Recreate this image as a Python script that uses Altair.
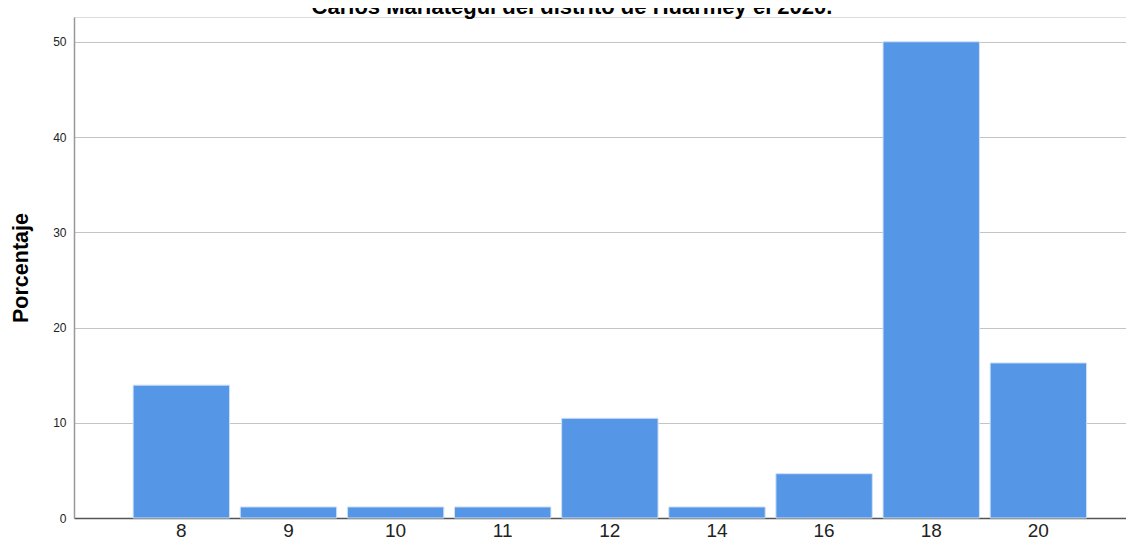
import altair as alt
import pandas as pd

categories = ["8", "9", "10", "11", "12", "14", "16", "18", "20"]
percentages = [13.95, 1.16, 1.16, 1.16, 10.47, 1.16, 4.65, 50.0, 16.28]
y_ticks = [0, 10, 20, 30, 40, 50]
title_text = "Carlos Mariátegui del distrito de Huarmey el 2020."
y_title = "Porcentaje"

df = pd.DataFrame({"nota": categories, "pct": percentages})
title_df = pd.DataFrame({"t": [title_text]})

FONT = "Liberation Sans"

bars = alt.Chart(df).mark_bar(
    color="#5596E6", stroke="#cfe0f6", strokeWidth=1
).encode(
    x=alt.X("nota:N", sort=categories, title=None,
            scale=alt.Scale(paddingInner=0.1, paddingOuter=0.46, align=0.6),
            axis=alt.Axis(labelAngle=0, labelFontSize=19, labelColor="#222222",
                          labelFont=FONT, ticks=False, labelPadding=3,
                          domainColor="#555555", domainWidth=1.5, grid=False)),
    y=alt.Y("pct:Q", title=y_title,
            scale=alt.Scale(domain=[0, 52.6], nice=False, zero=True),
            axis=alt.Axis(values=y_ticks, labelFontSize=12, labelColor="#222222",
                          labelFont=FONT, ticks=False, labelPadding=8,
                          domainColor="#999999", domainWidth=1.5,
                          grid=True, gridColor="#c4c4c4", gridWidth=1.2,
                          titleFont=FONT, titleFontSize=21.5, titleFontWeight="bold",
                          titleColor="#000000", titlePadding=20)),
)

title = alt.Chart(title_df).mark_text(
    font=FONT, fontSize=22, fontWeight="bold", color="#000000",
    align="center", baseline="alphabetic"
).encode(
    text="t:N",
    x=alt.value(498),
    y=alt.value(-3),
)

chart = alt.layer(bars, title).properties(
    width=1052, height=501,
    autosize=alt.AutoSizeParams(type="none"),
    padding={"left": 66, "top": 9, "right": 0, "bottom": 23},
).configure_view(stroke=None).configure(background="white")

chart.save("out.html", embed_options={"renderer": "svg", "actions": False})
